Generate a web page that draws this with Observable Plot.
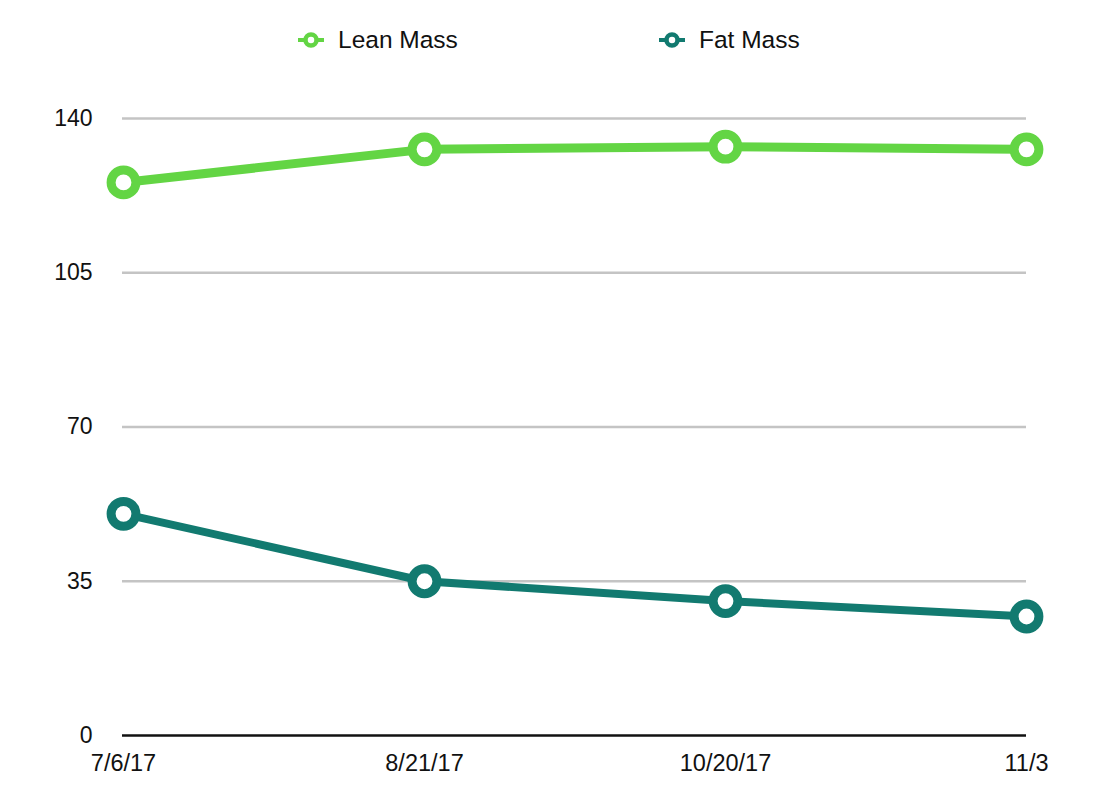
<!DOCTYPE html>
<html>
<head>
<meta charset="utf-8">
<script src="https://cdn.jsdelivr.net/npm/d3@7"></script>
<script src="https://cdn.jsdelivr.net/npm/@observablehq/plot@0.6"></script>
<style>
  html, body { margin: 0; padding: 0; background: #fff; }
  #wrap { position: relative; width: 1120px; height: 812px; font-family: "Liberation Sans", Arial, Helvetica, sans-serif; }
  #legend { position: absolute; top: 0; left: 0; width: 1120px; height: 80px; }
  .item { position: absolute; top: 26px; height: 28px; display: flex; align-items: center; font-size: 24.5px; color: #111; }
  .item svg { margin-right: 14px; }
</style>
</head>
<body>
<div id="wrap">
  <div id="legend"></div>
  <div id="chart"></div>
</div>
<script>
const dates = ["7/6/17", "8/21/17", "10/20/17", "11/3"];
const leanMass = [125.5, 133.0, 133.6, 133.0];
const fatMass = [50.3, 35.0, 30.5, 27.0];
const yTicks = [0, 35, 70, 105, 140];
const seriesNames = ["Lean Mass", "Fat Mass"];
const seriesColors = ["#63d544", "#127a70"];

const lean = dates.map((d, i) => ({date: d, value: leanMass[i]}));
const fat = dates.map((d, i) => ({date: d, value: fatMass[i]}));

const plot = Plot.plot({
  width: 1120,
  height: 812,
  marginLeft: 122,
  marginRight: 94,
  marginTop: 118,
  marginBottom: 77,
  style: {fontFamily: "'Liberation Sans', Arial, Helvetica, sans-serif", background: "#fff", overflow: "visible"},
  x: {type: "point", domain: dates, padding: 0},
  y: {domain: [0, 140]},
  marks: [
    Plot.ruleY(yTicks.filter(t => t > 0), {stroke: "#c4c4c4", strokeWidth: 2.5}),
    Plot.ruleY([0], {stroke: "#111", strokeWidth: 2.5}),
    Plot.axisY(yTicks, {tickSize: 0, tickPadding: 30, fontSize: 23, fill: "#111", label: null}),
    Plot.axisX(dates, {tickSize: 0, tickPadding: 19, fontSize: 23.5, fill: "#111", label: null}),
    Plot.line(lean, {x: "date", y: "value", stroke: seriesColors[0], strokeWidth: 9}),
    Plot.line(fat, {x: "date", y: "value", stroke: seriesColors[1], strokeWidth: 8}),
    Plot.dot(lean, {x: "date", y: "value", r: 12.4, stroke: seriesColors[0], strokeWidth: 9, fill: "#fff"}),
    Plot.dot(fat, {x: "date", y: "value", r: 12.4, stroke: seriesColors[1], strokeWidth: 9, fill: "#fff"})
  ]
});
document.getElementById("chart").appendChild(plot);

const legend = document.getElementById("legend");
const lefts = [298, 659];
const ns = "http://www.w3.org/2000/svg";
seriesNames.forEach((name, i) => {
  const item = document.createElement("div");
  item.className = "item";
  item.style.left = lefts[i] + "px";
  const sw = document.createElementNS(ns, "svg");
  sw.setAttribute("width", 26);
  sw.setAttribute("height", 26);
  const ln = document.createElementNS(ns, "line");
  ln.setAttribute("x1", 0); ln.setAttribute("x2", 26);
  ln.setAttribute("y1", 13); ln.setAttribute("y2", 13);
  ln.setAttribute("stroke", seriesColors[i]); ln.setAttribute("stroke-width", 4);
  const c = document.createElementNS(ns, "circle");
  c.setAttribute("cx", 13); c.setAttribute("cy", 13); c.setAttribute("r", 5.5);
  c.setAttribute("fill", "#fff"); c.setAttribute("stroke", seriesColors[i]); c.setAttribute("stroke-width", 4.5);
  sw.appendChild(ln); sw.appendChild(c);
  const lab = document.createElement("span");
  lab.textContent = name;
  item.appendChild(sw);
  item.appendChild(lab);
  legend.appendChild(item);
});
</script>
</body>
</html>
